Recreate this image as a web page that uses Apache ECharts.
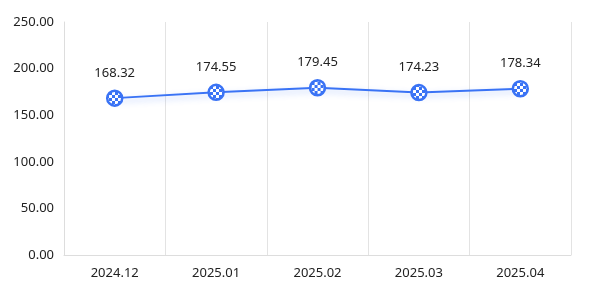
<!DOCTYPE html>
<html><head><meta charset="utf-8">
<script src="https://cdn.jsdelivr.net/npm/echarts@6/dist/echarts.min.js"></script>
<style>html,body{margin:0;padding:0;background:#fff}#c{width:589px;height:290px}</style>
</head><body><div id="c"></div>
<script>
const categories = ['2024.12','2025.01','2025.02','2025.03','2025.04'];
const values = [168.32, 174.55, 179.45, 174.23, 178.34];
const yTicks = [0, 50, 100, 150, 200, 250];

const SZ = 15;
const pc = document.createElement('canvas');
pc.width = 60; pc.height = 60;
const g = pc.getContext('2d');
g.fillStyle = '#ffffff'; g.fillRect(0,0,60,60);
g.fillStyle = '#3a73f5';
g.fillRect(0,0,30,30); g.fillRect(30,30,30,30);
const sc = 1 / (SZ / 2) / 10 * 1.0;

const chart = echarts.init(document.getElementById('c'), null, {renderer:'canvas'});
chart.setOption({
  animation:false,
  grid:{left:64,right:18,top:22,bottom:35,containLabel:false},
  xAxis:{type:'category',data:categories,boundaryGap:true,
    axisLine:{lineStyle:{color:'#dddddd'}},axisTick:{show:false},
    axisLabel:{color:'#222',fontSize:13,margin:12,fontFamily:'Noto Sans'},
    splitLine:{show:true,lineStyle:{color:'#e3e3e3'}}},
  yAxis:{type:'value',min:yTicks[0],max:yTicks[yTicks.length-1],interval:50,
    axisLine:{show:true,lineStyle:{color:'#dddddd'}},axisTick:{show:false},
    axisLabel:{color:'#222',fontSize:13,margin:10,fontFamily:'Noto Sans',formatter:v=>v.toFixed(2)},
    splitLine:{show:false}},
  series:[{type:'line',data:values,symbol:'circle',symbolSize:SZ,
    lineStyle:{color:'#3a73f5',width:2,shadowColor:'rgba(58,115,245,0.35)',shadowBlur:6,shadowOffsetY:3},
    itemStyle:{color:{image:pc,repeat:'repeat',scaleX:sc,scaleY:sc},borderColor:'#3a73f5',borderWidth:2.5},
    label:{show:true,position:'top',distance:10,color:'#222',fontSize:13,fontFamily:'Noto Sans',
      formatter:p=>p.value.toFixed(2)}}]
});
</script></body></html>
